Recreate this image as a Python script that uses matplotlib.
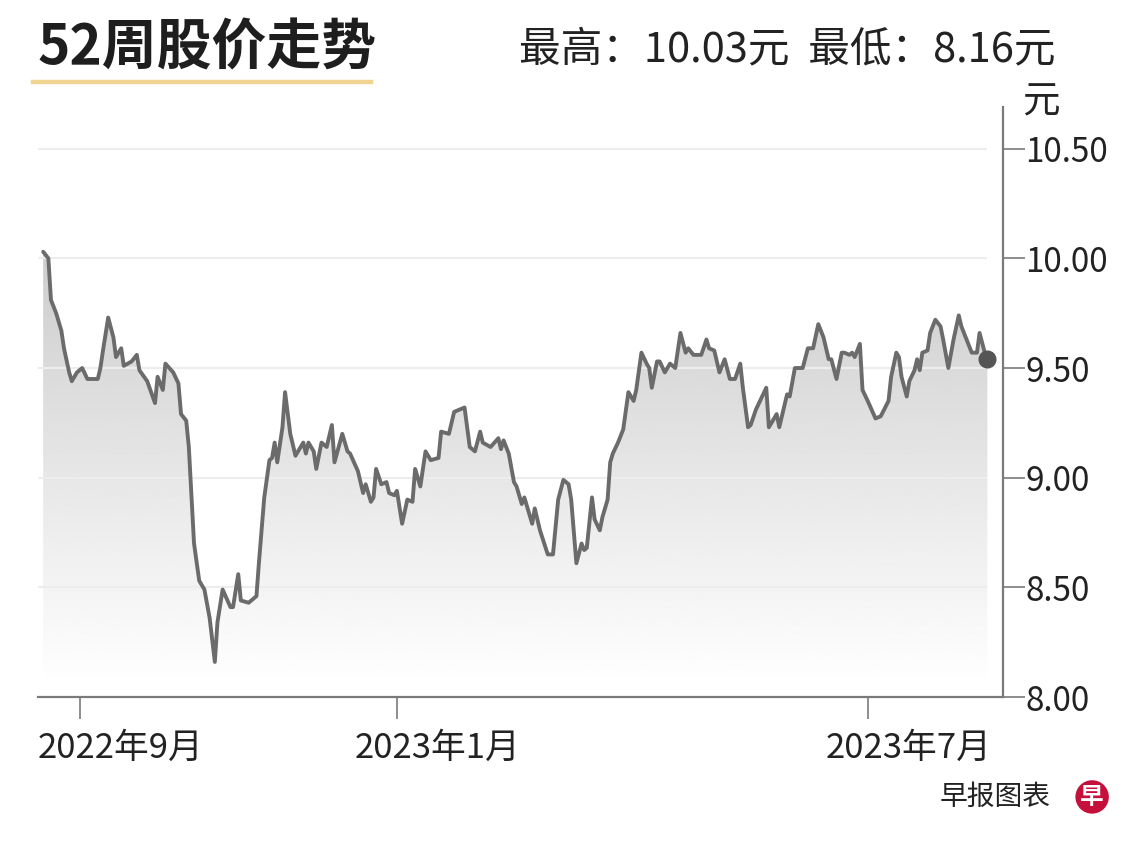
import numpy as np
import matplotlib
matplotlib.use("Agg")
import matplotlib.pyplot as plt
from matplotlib.lines import Line2D
from matplotlib.transforms import ScaledTranslation

plt.rcParams["font.family"] = ["Noto Sans CJK SC", "DejaVu Sans"]

# data: day offset from 2022-08-18, closing price (元)
start_date = np.datetime64("2022-08-18")
days = [0, 2, 3, 5, 7, 8, 10, 11, 13, 15, 17, 21, 22, 23, 25, 27, 28, 30, 31, 34,
        36, 37, 40, 43, 44, 46, 47, 50, 52, 53, 55, 56, 58, 60, 62, 64, 66, 67, 69, 72,
        73, 75, 76, 79, 82, 83, 85, 87, 88, 89, 90, 92, 93, 95, 97, 100, 101, 102, 104, 105,
        107, 109, 111, 112, 115, 117, 118, 121, 123, 124, 126, 127, 128, 130, 132, 133, 135, 136, 138, 140,
        142, 143, 145, 147, 149, 152, 153, 156, 158, 160, 162, 164, 166, 168, 169, 172, 175, 176, 177, 179,
        181, 182, 184, 185, 188, 189, 191, 194, 196, 198, 200, 202, 203, 205, 207, 208, 209, 211, 212, 214,
        215, 217, 218, 219, 221, 223, 225, 227, 228, 230, 232, 233, 234, 236, 237, 239, 241, 243, 245, 247,
        248, 250, 253, 255, 256, 258, 260, 262, 264, 266, 268, 269, 271, 272, 274, 278, 279, 282, 283, 286,
        287, 289, 292, 294, 296, 298, 300, 302, 303, 305, 307, 308, 310, 311, 312, 314, 315, 317, 320, 322,
        325, 326, 328, 329, 330, 332, 333, 335, 336, 337, 338, 340, 341, 343, 345, 346, 348, 350, 352, 353,
        355, 357, 359, 360, 362, 363]
prices = [10.03, 10.00, 9.81, 9.75, 9.67, 9.59, 9.48, 9.44, 9.48, 9.50, 9.45, 9.45, 9.50, 9.58, 9.73, 9.64, 9.55, 9.59, 9.51, 9.53,
          9.56, 9.49, 9.44, 9.34, 9.46, 9.40, 9.52, 9.48, 9.43, 9.29, 9.26, 9.14, 8.70, 8.53, 8.49, 8.36, 8.16, 8.34, 8.49, 8.41,
          8.41, 8.56, 8.44, 8.43, 8.46, 8.62, 8.91, 9.08, 9.09, 9.16, 9.07, 9.23, 9.39, 9.20, 9.10, 9.16, 9.11, 9.16, 9.12, 9.04,
          9.16, 9.14, 9.24, 9.07, 9.20, 9.12, 9.11, 9.03, 8.93, 8.97, 8.89, 8.91, 9.04, 8.97, 8.98, 8.93, 8.92, 8.94, 8.79, 8.90,
          8.89, 9.04, 8.96, 9.12, 9.08, 9.09, 9.21, 9.20, 9.30, 9.31, 9.32, 9.14, 9.12, 9.21, 9.16, 9.14, 9.18, 9.13, 9.17, 9.11,
          8.98, 8.96, 8.88, 8.91, 8.79, 8.86, 8.76, 8.65, 8.65, 8.90, 8.99, 8.97, 8.90, 8.61, 8.70, 8.67, 8.68, 8.91, 8.81, 8.76,
          8.82, 8.90, 9.07, 9.11, 9.16, 9.22, 9.39, 9.35, 9.40, 9.57, 9.52, 9.50, 9.41, 9.53, 9.53, 9.48, 9.52, 9.50, 9.66, 9.57,
          9.59, 9.56, 9.56, 9.63, 9.59, 9.58, 9.48, 9.54, 9.45, 9.45, 9.52, 9.41, 9.23, 9.24, 9.31, 9.41, 9.23, 9.29, 9.23, 9.38,
          9.37, 9.50, 9.50, 9.59, 9.59, 9.70, 9.64, 9.54, 9.54, 9.45, 9.57, 9.57, 9.56, 9.57, 9.55, 9.61, 9.40, 9.35, 9.27, 9.28,
          9.35, 9.46, 9.57, 9.55, 9.46, 9.37, 9.44, 9.49, 9.54, 9.49, 9.57, 9.58, 9.66, 9.72, 9.69, 9.63, 9.50, 9.63, 9.74, 9.69,
          9.63, 9.57, 9.57, 9.66, 9.57, 9.54]

y_ticks = [8.00, 8.50, 9.00, 9.50, 10.00, 10.50]
x_tick_dates = ["2022-09-01", "2023-01-01", "2023-07-01"]
x_tick_labels = ["2022年9月", "2023年1月", "2023年7月"]
title = "52周股价走势"
summary = "最高：10.03元  最低：8.16元"

dates = start_date + np.array(days)
prices = np.array(prices)

fig = plt.figure(figsize=(11.4, 8.46), dpi=100)
fig.patch.set_facecolor("white")
ax = fig.add_axes([0.0333, 0.1761, 0.8465, 0.6974])

x0 = start_date - np.timedelta64(2, "D")
x1 = start_date + np.timedelta64(369, "D")

# gradient fill under the line
poly = ax.fill_between(dates, prices, 8.0, color="none", lw=0)
grad = np.linspace(0.80, 1.0, 256).reshape(-1, 1)
img = ax.imshow(grad, cmap="gray", vmin=0, vmax=1, aspect="auto",
                extent=[matplotlib.dates.date2num(dates[0]), matplotlib.dates.date2num(dates[-1]), 8.05, 10.05],
                origin="upper", zorder=1)
img.set_clip_path(poly.get_paths()[0], transform=ax.transData)
ax.set_xlim(x0, x1)
ax.set_ylim(8.0, 10.69)

# light grid lines
ax.hlines(y_ticks[1:], x0, dates[-1], colors="#ededed", lw=1.6, zorder=2)

ax.plot(dates, prices, color="#6b6b6b", lw=2.8, zorder=3,
        solid_joinstyle="round", solid_capstyle="round")
ax.plot(dates[-1:], prices[-1:], "o", color="#555555", ms=12, zorder=4)

for s in ["top", "left"]:
    ax.spines[s].set_visible(False)
for s in ["right", "bottom"]:
    ax.spines[s].set_color("#7a7a7a")
    ax.spines[s].set_linewidth(1.6)

ax.yaxis.tick_right()
ax.set_yticks(y_ticks)
ax.set_yticklabels([f"{v:.2f}" for v in y_ticks])
ax.tick_params(axis="y", length=16, width=1.2, color="#7a7a7a", pad=0,
               labelsize=24, labelcolor="#222222")

ax.set_xticks([np.datetime64(d) for d in x_tick_dates])
ax.set_xticklabels(x_tick_labels)
ax.tick_params(axis="x", length=16, width=1.2, color="#7a7a7a", pad=8,
               labelsize=25, labelcolor="#222222")
for lab in ax.get_xticklabels():
    lab.set_horizontalalignment("left")
    lab.set_transform(lab.get_transform() + ScaledTranslation(-0.42, 0, fig.dpi_scale_trans))

# header
fig.text(0.0333, 0.943, title, fontsize=39.5, fontweight="bold", color="#1e1e1e",
         va="center", ha="left")
fig.add_artist(Line2D([0.029, 0.325], [0.903, 0.903], transform=fig.transFigure,
                      color="#f1d491", lw=3.2))
fig.text(0.9255, 0.941, summary, fontsize=30, color="#222222", va="center", ha="right")
fig.text(0.897, 0.879, "元", fontsize=27, color="#222222", va="center", ha="left")

# footer
fig.text(0.922, 0.058, "早报图表", fontsize=20, color="#222222", va="center", ha="right")
fig.text(0.958, 0.058, "早", fontsize=17, color="white", fontweight="bold", va="center", ha="center",
         bbox=dict(boxstyle="circle,pad=0.2", fc="#c5103c", ec="none"))

fig.savefig("out.png", dpi=100, facecolor="white")
